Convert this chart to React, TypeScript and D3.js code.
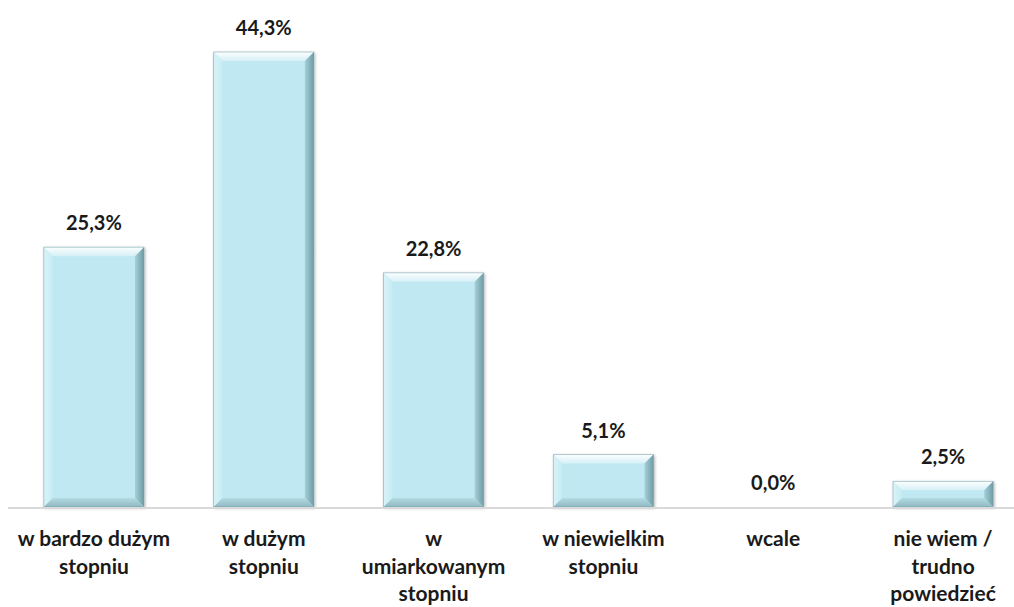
import React from "react";
import * as d3 from "d3";

const categories: string[][] = [
  ["w bardzo dużym", "stopniu"],
  ["w dużym", "stopniu"],
  ["w", "umiarkowanym", "stopniu"],
  ["w niewielkim", "stopniu"],
  ["wcale"],
  ["nie wiem /", "trudno", "powiedzieć"],
];
const values: number[] = [25.3, 44.3, 22.8, 5.1, 0.0, 2.5];
const valueLabels: string[] = ["25,3%", "44,3%", "22,8%", "5,1%", "0,0%", "2,5%"];

const W = 1014;
const H = 607;
const baseline = 507;
const FONT = "Lato, 'Open Sans', sans-serif";

export default function App() {
  const ids = categories.map((_, i) => i);
  const x = d3.scaleBand<number>().domain(ids).range([9, 1028]).paddingInner(0.41).paddingOuter(0.205);
  const y = d3.scaleLinear().domain([0, 44.3]).range([baseline, 52]);
  const bw = x.bandwidth();
  const bev = 9;

  return (
    <svg width={W} height={H} style={{ position: "absolute", left: 0, top: 0, background: "#fff" }}>
      <defs>
        <linearGradient id="topG" x1="0" y1="0" x2="0" y2="1">
          <stop offset="0" stopColor="#ffffff" stopOpacity="0.95" />
          <stop offset="1" stopColor="#ffffff" stopOpacity="0.35" />
        </linearGradient>
        <linearGradient id="rightG" x1="0" y1="0" x2="1" y2="0">
          <stop offset="0" stopColor="#a5d0d9" />
          <stop offset="1" stopColor="#6f9ba4" />
        </linearGradient>
        <linearGradient id="leftG" x1="1" y1="0" x2="0" y2="0">
          <stop offset="0" stopColor="#c6ecf4" />
          <stop offset="1" stopColor="#d9f3f8" />
        </linearGradient>
        <linearGradient id="botG" x1="0" y1="0" x2="0" y2="1">
          <stop offset="0" stopColor="#b3dbe4" />
          <stop offset="1" stopColor="#8fb8c1" />
        </linearGradient>
        <filter id="sh" x="-10%" y="-10%" width="120%" height="120%">
          <feGaussianBlur in="SourceAlpha" stdDeviation="1.5" />
          <feOffset dx="1" dy="1" result="b" />
          <feComponentTransfer><feFuncA type="linear" slope="0.3" /></feComponentTransfer>
          <feMerge><feMergeNode /><feMergeNode in="SourceGraphic" /></feMerge>
        </filter>
      </defs>

      {values.map((v, i) => {
        const x0 = x(i)!;
        const y0 = y(v);
        const h = baseline - y0;
        if (h <= 0) return null;
        const b = Math.min(bev, h / 2);
        const x1 = x0 + bw;
        return (
          <g key={i} filter="url(#sh)">
            <rect x={x0} y={y0} width={bw} height={h} fill="#bfe8f2" />
            <polygon points={`${x0},${y0} ${x1},${y0} ${x1 - b},${y0 + b} ${x0 + b},${y0 + b}`} fill="url(#topG)" />
            <polygon points={`${x0},${y0} ${x0 + b},${y0 + b} ${x0 + b},${baseline - b} ${x0},${baseline}`} fill="url(#leftG)" />
            <polygon points={`${x1},${y0} ${x1},${baseline} ${x1 - b},${baseline - b} ${x1 - b},${y0 + b}`} fill="url(#rightG)" />
            <polygon points={`${x0},${baseline} ${x0 + b},${baseline - b} ${x1 - b},${baseline - b} ${x1},${baseline}`} fill="url(#botG)" />
            <rect x={x0} y={y0} width={bw} height={h} fill="none" stroke="#6f9aa3" strokeWidth={0.8} strokeOpacity={0.6} />
          </g>
        );
      })}

      <line x1={8} x2={W} y1={baseline + 1} y2={baseline + 1} stroke="#d9d9d9" strokeWidth={2} />

      {values.map((v, i) => (
        <text
          key={"v" + i}
          x={x(i)! + bw / 2}
          y={y(v) - 17}
          textAnchor="middle"
          fontFamily={FONT}
          fontWeight={700}
          fontSize={20}
          fill="#1a1a1a"
        >
          {valueLabels[i]}
        </text>
      ))}

      {categories.map((lines, i) => (
        <text
          key={"c" + i}
          x={x(i)! + bw / 2}
          textAnchor="middle"
          fontFamily={FONT}
          fontWeight={700}
          fontSize={21}
          fill="#1a1a1a"
        >
          {lines.map((l, j) => (
            <tspan key={j} x={x(i)! + bw / 2} y={546 + j * 27.5}>
              {l}
            </tspan>
          ))}
        </text>
      ))}
    </svg>
  );
}
